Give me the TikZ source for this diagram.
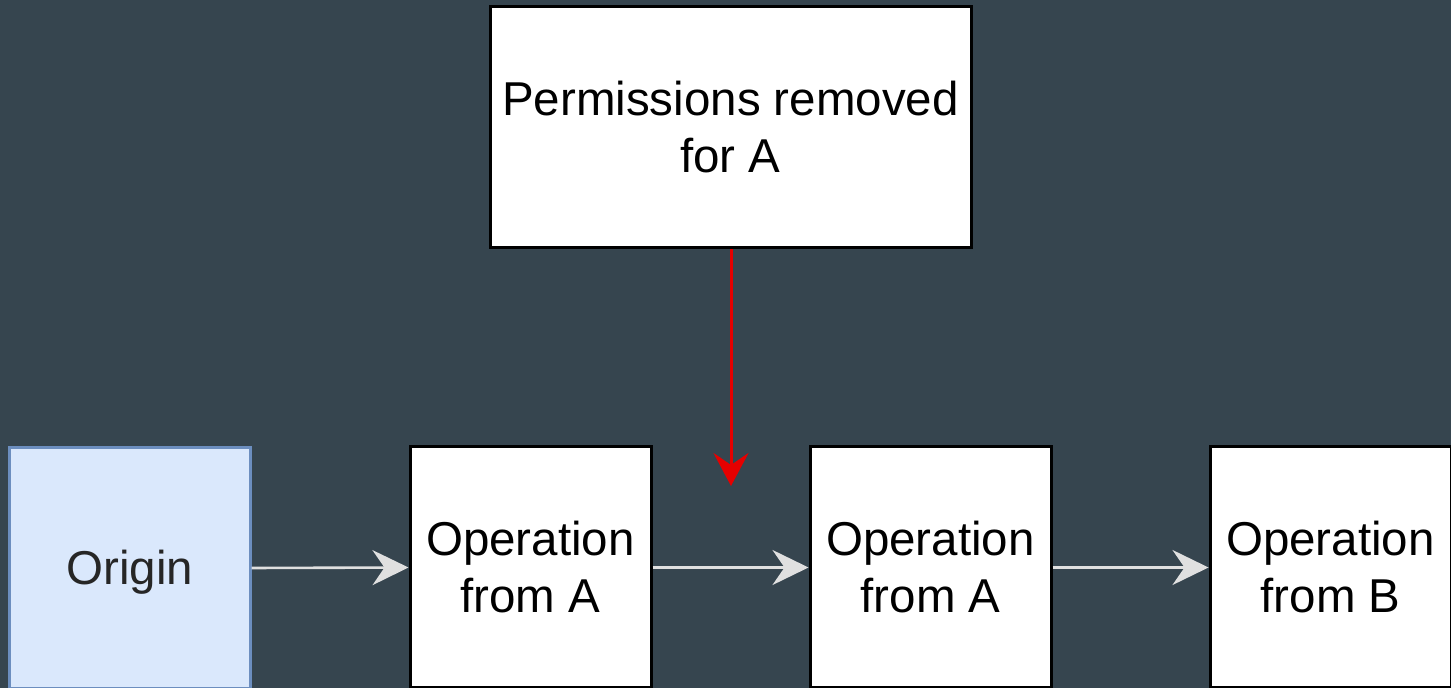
\documentclass[tikz,border=0pt]{standalone}
\usepackage{fontspec}
\setmainfont{Liberation Sans}
\usetikzlibrary{arrows.meta}

\definecolor{bgslate}{RGB}{54,69,79}
\definecolor{originfill}{RGB}{218,232,252}
\definecolor{originline}{RGB}{108,142,191}
\definecolor{flowgray}{RGB}{224,224,224}
\definecolor{alertred}{RGB}{230,0,0}

\tikzset{
  box/.style={draw=black, fill=white, line width=1.5pt, text=black,
    inner sep=0pt, align=center,
    font=\fontsize{23.75}{28.5}\selectfont},
  opbox/.style={box, minimum width=120.5pt, minimum height=120.5pt},
  originbox/.style={opbox, draw=originline, fill=originfill, line width=1.2pt,
    text={black!85}, text height=18pt, text depth=1pt},
  topbox/.style={box, minimum width=240.5pt, minimum height=120.5pt},
  flow/.style={draw=flowgray, line width=1.3pt,
    -{Stealth[length=18pt, width=17.5pt, inset=6pt]}},
  alert/.style={draw=alertred, line width=1.5pt,
    -{Stealth[length=16.5pt, width=17.5pt, inset=6pt]}}
}

\begin{document}
\begin{tikzpicture}[x=0.5pt, y=-0.5pt]
  % canvas
  \fill[bgslate] (0,0) rectangle (1451,688);
  \useasboundingbox (0,0) rectangle (1451,688);

  % event sequence
  \node[originbox] (origin) at (130,568) {Origin};
  \node[opbox] (opA1) at (530.5,567.5) {Operation\\from A};
  \node[opbox] (opA2) at (930.5,567.5) {Operation\\from A};
  \node[opbox] (opB)  at (1330.5,567.5) {Operation\\from B};

  % revocation event
  \node[topbox] (revoke) at (730.5,127.5) {Permissions removed\\for A};
  \coordinate (cut) at (731,486);

  % connectors
  \draw[flow] (origin.east) -- (opA1.west);
  \draw[flow] (opA1.east) -- (opA2.west);
  \draw[flow] (opA2.east) -- (opB.west);
  \draw[alert] (revoke.south -| cut) -- (cut);
\end{tikzpicture}
\end{document}
